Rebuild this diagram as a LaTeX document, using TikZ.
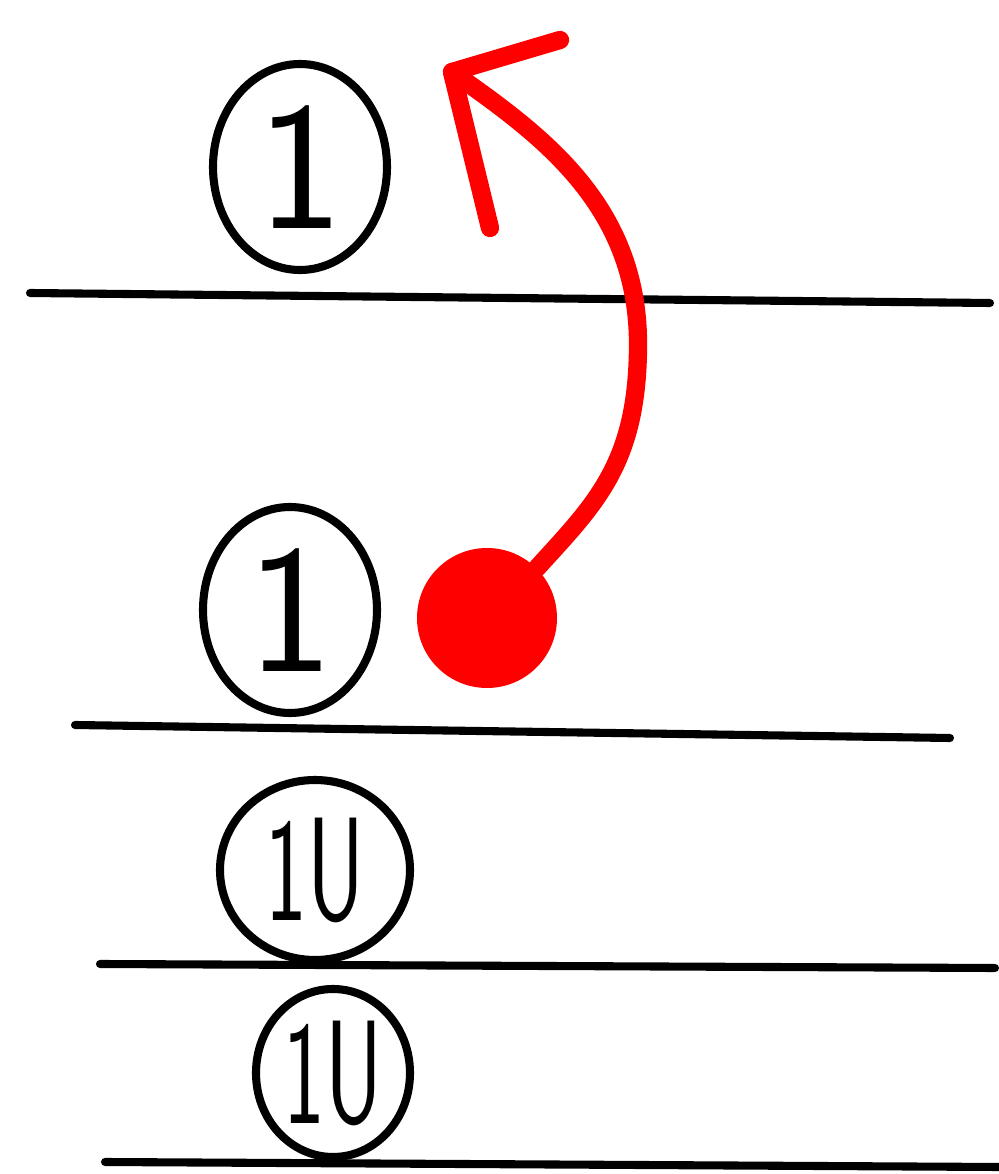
\documentclass[tikz,border=0pt]{standalone}
\usepackage{graphicx}
\usetikzlibrary{shapes.geometric}
\begin{document}
\begin{tikzpicture}[
	trait/.style={line width=2.3pt, line cap=round},
	rond/.style={ellipse, draw, line width=2.3pt, inner sep=0pt, font=\sffamily\fontsize{52}{52}\selectfont},
	petit/.style={font=\sffamily\fontsize{42}{42}\selectfont},
	rouge/.style={draw=red, line width=5.2pt, line cap=round, line join=round}]
		\useasboundingbox (0,0) rectangle (9.99,11.74);
		% Lignes
		\draw[trait] (0.30,8.81) -- (9.90,8.71);
		\draw[trait] (0.75,4.49) -- (9.50,4.36);
		\draw[trait] (1.00,2.10) -- (9.95,2.06);
		\draw[trait] (1.05,0.12) -- (9.99,0.07);
		% Cercles
		\node[rond, minimum width=1.74cm, minimum height=2.06cm] (haut) at (3.00,10.07) {1};
		\node[rond, minimum width=1.74cm, minimum height=2.06cm] (deux) at (2.90,5.64) {1};
		\node[rond, petit, minimum width=1.90cm, minimum height=1.80cm] (trois) at (3.15,3.04) {\scalebox{0.6}[1]{1U}};
		\node[rond, petit, minimum width=1.54cm, minimum height=1.68cm] (quatre) at (3.33,1.01) {\scalebox{0.6}[1]{1U}};
		% Fleche rouge
		\node[circle, fill=red, minimum size=1.4cm, inner sep=0pt] (point) at (4.87,5.56) {};
		\coordinate (pointe) at (4.52,11.02);
		\coordinate (barbeA) at (5.60,11.34);
		\coordinate (barbeB) at (4.90,9.46);
		\draw[rouge] (point.north east) .. controls (5.95,6.7) and (6.38,7.1) .. (6.38,8.3) .. controls (6.38,9.7) and (5.4,10.4) .. (pointe);
		\draw[rouge] (barbeA) -- (pointe) -- (barbeB);
	\end{tikzpicture}
\end{document}
